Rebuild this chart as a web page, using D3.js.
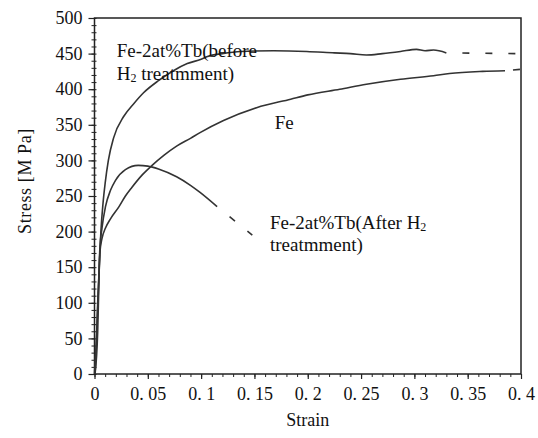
<!DOCTYPE html>
<html>
<head>
<meta charset="utf-8">
<script src="https://cdn.jsdelivr.net/npm/d3@7"></script>
<style>
  html, body { margin: 0; padding: 0; background: #fff; }
  svg { display: block; font-family: "Liberation Serif", "DejaVu Serif", serif; }
</style>
</head>
<body>
<svg id="chart" width="538" height="438"></svg>
<script>
// strain / stress
const strainBefore = [0.0005, 0.002, 0.003, 0.0045, 0.006, 0.008, 0.010, 0.013, 0.018, 0.0275, 0.037, 0.046, 0.060, 0.074, 0.087, 0.100, 0.106, 0.120, 0.137, 0.168, 0.199, 0.225, 0.240, 0.255, 0.270, 0.287, 0.302, 0.310, 0.318, 0.330];
const stressBefore = [0, 50, 100, 150, 200, 240, 268, 300, 332, 362, 380, 395, 412, 426, 436, 442, 446, 450, 453, 454, 453, 451, 450, 448, 450, 453, 456, 454, 455, 451];
const strainBeforeDash = [0.330, 0.395];
const stressBeforeDash = [451, 450];

const strainFe = [0, 0.0015, 0.0035, 0.005, 0.007, 0.0103, 0.015, 0.023, 0.029, 0.035, 0.045, 0.054, 0.065, 0.077, 0.090, 0.099, 0.121, 0.152, 0.184, 0.200, 0.230, 0.255, 0.287, 0.318, 0.333, 0.364, 0.385];
const stressFe = [0, 40, 110, 170, 190, 205, 218, 235, 250, 262, 280, 293, 307, 320, 331, 339, 356, 374, 386, 392, 400, 407, 414, 419, 422, 425, 426];
const strainFeDash = [0.385, 0.400];
const stressFeDash = [426, 428];

const strainAfter = [0.0005, 0.003, 0.004, 0.005, 0.007, 0.0103, 0.015, 0.0197, 0.029, 0.041, 0.050, 0.060, 0.077, 0.090, 0.099, 0.115];
const stressAfter = [0, 60, 120, 175, 205, 235, 258, 272, 287, 293, 292, 288, 277, 265, 255, 235];
const strainAfterDash = [0.115, 0.148];
const stressAfterDash = [235, 195];

const xTickValues = [0, 0.05, 0.1, 0.15, 0.2, 0.25, 0.3, 0.35, 0.4];
const xTickLabels = ["0", "0. 05", "0. 1", "0. 15", "0. 2", "0. 25", "0. 3", "0. 35", "0. 4"];
const yTickValues = [0, 50, 100, 150, 200, 250, 300, 350, 400, 450, 500];

// annotations placed in data units [strain, stress]
const labelBefore = ["Fe-2at%Tb(before", "H|2| treatmment)"];
const labelBeforeAt = [[0.0208, 445], [0.0208, 413]];
const labelFe = ["Fe"];
const labelFeAt = [[0.169, 344]];
const labelAfter = ["Fe-2at%Tb(After H|2|", "treatmment)"];
const labelAfterAt = [[0.1646, 203], [0.1646, 173]];

const svg = d3.select("#chart");
const x = d3.scaleLinear().domain([0, 0.4]).range([94.5, 521]);
const y = d3.scaleLinear().domain([0, 500]).range([374, 18]);
const ink = "#222";

// frame
svg.append("rect")
    .attr("x", x(0)).attr("y", y(500))
    .attr("width", x(0.4) - x(0)).attr("height", y(0) - y(500))
    .attr("fill", "none").attr("stroke", ink).attr("stroke-width", 1.5);

// y minor ticks (cross the axis)
const yMinor = svg.append("g")
    .attr("transform", `translate(${x(0)},0)`)
    .call(d3.axisLeft(y).tickValues(d3.range(0, 501, 10)).tickSize(3).tickFormat(""));
yMinor.select(".domain").remove();
yMinor.selectAll("line").attr("x1", 2).attr("stroke", ink);

// y major ticks + labels
const yAxis = svg.append("g")
    .attr("transform", `translate(${x(0)},0)`)
    .call(d3.axisLeft(y).tickValues(yTickValues).tickSize(6).tickPadding(6));
yAxis.select(".domain").remove();
yAxis.selectAll("line").attr("stroke", ink).attr("stroke-width", 1.2);
yAxis.selectAll("text")
    .attr("font-family", "Liberation Serif").attr("font-size", 18).attr("fill", "#111");

// x minor ticks
const xMinor = svg.append("g")
    .attr("transform", `translate(0,${y(0)})`)
    .call(d3.axisBottom(x).tickValues(d3.range(0, 41).map(i => i / 100)).tickSize(3).tickFormat(""));
xMinor.select(".domain").remove();
xMinor.selectAll("line").attr("stroke", ink);

// x major ticks + labels
const xAxis = svg.append("g")
    .attr("transform", `translate(0,${y(0)})`)
    .call(d3.axisBottom(x).tickValues(xTickValues).tickSize(5).tickPadding(8)
        .tickFormat((d, i) => xTickLabels[i]));
xAxis.select(".domain").remove();
xAxis.selectAll("line").attr("stroke", ink).attr("stroke-width", 1.2);
xAxis.selectAll("text")
    .attr("font-family", "Liberation Serif").attr("font-size", 18).attr("fill", "#111");

// axis titles
svg.append("text")
    .attr("x", x(0.2)).attr("y", 426)
    .attr("text-anchor", "middle")
    .attr("font-size", 18).attr("fill", "#111")
    .text("Strain");

svg.append("text")
    .attr("transform", "translate(31,181) rotate(-90)")
    .attr("text-anchor", "middle")
    .attr("font-size", 18).attr("fill", "#111")
    .attr("letter-spacing", 0.6)
    .text("Stress [M Pa]");

// curves
const line = d3.line()
    .x(d => x(d[0]))
    .y(d => y(d[1]))
    .curve(d3.curveMonotoneX);

const zip = (a, b) => a.map((v, i) => [v, b[i]]);

const solid = [
    zip(strainBefore, stressBefore),
    zip(strainFe, stressFe),
    zip(strainAfter, stressAfter)
];
svg.append("g").selectAll("path")
    .data(solid)
    .enter().append("path")
    .attr("d", line)
    .attr("fill", "none")
    .attr("stroke", "#333")
    .attr("stroke-width", 1.6)
    .attr("stroke-linejoin", "round");

const dashed = [
    { pts: zip(strainBeforeDash, stressBeforeDash), off: 7 },
    { pts: zip(strainFeDash, stressFeDash), off: 15 },
    { pts: zip(strainAfterDash, stressAfterDash), off: 7 }
];
svg.append("g").selectAll("path")
    .data(dashed)
    .enter().append("path")
    .attr("d", d => d3.line().x(p => x(p[0])).y(p => y(p[1]))(d.pts))
    .attr("fill", "none")
    .attr("stroke", "#333")
    .attr("stroke-width", 1.6)
    .attr("stroke-dasharray", "7 16")
    .attr("stroke-dashoffset", d => d.off);

// annotations; "|2|" marks the subscript
function addLabel(lines, at) {
    lines.forEach((str, i) => {
        const t = svg.append("text")
            .attr("x", x(at[i][0])).attr("y", y(at[i][1]))
            .attr("font-size", 19).attr("fill", "#111");
        str.split("|").forEach((part, j) => {
            if (!part) return;
            const sub = j % 2 === 1;
            t.append("tspan")
                .attr("font-size", sub ? 12 : 19)
                .attr("dy", sub ? 2 : (j > 0 ? -2 : 0))
                .text(part);
        });
    });
}
addLabel(labelBefore, labelBeforeAt);
addLabel(labelFe, labelFeAt);
addLabel(labelAfter, labelAfterAt);
</script>
</body>
</html>
